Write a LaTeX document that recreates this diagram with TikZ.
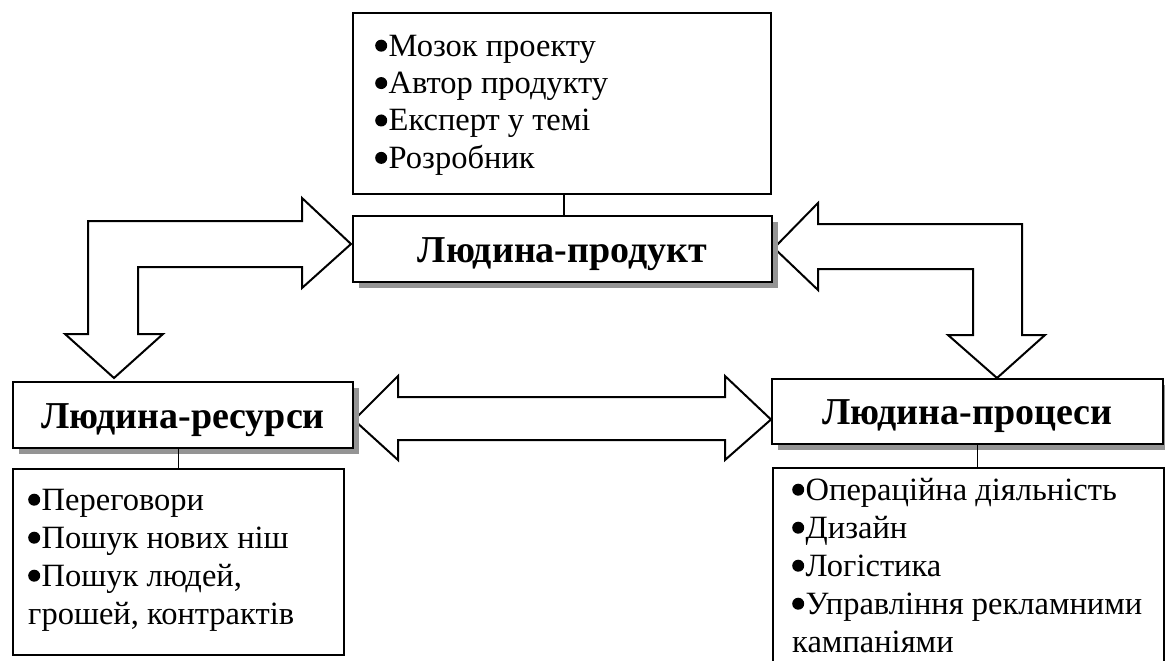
\documentclass[tikz,border=0pt]{standalone}
\usepackage{fontspec}
\setmainfont{Liberation Serif}
\usetikzlibrary{shadows,calc,backgrounds}
\newcommand{\bl}{\tikz[x=1pt,y=1pt,baseline=0pt]\fill[black] (6,10.5) circle[radius=6pt];\hspace{1.5pt}}
\begin{document}
\begin{tikzpicture}[x=1pt,y=-1pt,
  titlebox/.style={draw, line width=2pt, fill=white, inner sep=0pt,
    minimum height=66pt, text height=31pt, text depth=5pt,
    font=\fontsize{38}{40}\selectfont\bfseries,
    drop shadow={shadow xshift=6pt, shadow yshift=-6pt, fill=black!42, opacity=1}},
  listbox/.style={draw, line width=2pt, fill=white, inner sep=0pt, anchor=north west},
  listtext/.style={anchor=north west, inner sep=0pt, align=left, font=\fontsize{32.5}{38}\selectfont},
  conn/.style={line width=1.5pt},
  blockarrow/.style={draw, line width=2pt, fill=white, line join=miter}
]
\useasboundingbox (0,0) rectangle (1165,661);

% boxes
\node[listbox, minimum width=418pt, minimum height=181pt] (det1) at (352,12) {};
\node[titlebox, anchor=north west, minimum width=419pt] (prod) at (352,215) {Людина-продукт};
\node[titlebox, anchor=north west, minimum width=340pt] (res) at (12,381) {Людина-ресурси};
\node[listbox, minimum width=331pt, minimum height=186pt] (det2) at (12,468) {};
\node[titlebox, anchor=north west, minimum width=391pt, minimum height=65pt] (proc) at (771,378) {Людина-процеси};
\node[listbox, minimum width=391pt, minimum height=240pt] (det3) at (772,467) {};

% texts
\node[listtext, font=\fontsize{32.5}{37.4}\selectfont] (t1) at (375,29.8) {\strut\bl Мозок проекту\\\bl Автор продукту\\\bl Експерт у темі\\\bl Розробник};
\node[listtext] (t2) at (28,483.4) {\strut\bl Переговори\\\bl Пошук нових ніш\\\bl Пошук людей,\\грошей, контрактів};
\node[listtext] (t3) at (792,473.4) {\strut\bl Операційна діяльність\\\bl Дизайн\\\bl Логістика\\\bl Управління рекламними\\кампаніями};

% connectors
\draw[conn] (det1.south -| 564,0) -- (prod.north -| 564,0);
\draw[conn] (det2.north) -- (det2.north |- res.south);
\coordinate (c3) at ($(det3.north)+(9,0)$);
\draw[conn] (c3) -- (c3 |- proc.south);

% arrow end points
\coordinate (pL) at ($(prod.west)+(-1,-5)$);
\coordinate (rT) at ($(res.north west)+(102,-3)$);
\coordinate (pR) at ($(prod.east)+(1,-1)$);
\coordinate (qT) at ($(proc.north west)+(226,0)$);
\coordinate (rE) at ($(res.east)+(0,5)$);
\coordinate (qW) at ($(proc.west)+(0,8)$);

\begin{pgfonlayer}{background}
\fill[white] (0,0) rectangle (1165,661);
\path[blockarrow] (pL) -- (302,198) -- (302,221) -- (88,221) -- (88,334) -- (65,334) -- (rT)
  -- (163,334) -- (138,334) -- (138,267) -- (302,267) -- (302,288) -- cycle;
\path[blockarrow] (pR) -- (818,203) -- (818,224) -- (1022,224) -- (1022,335) -- (1045,335) -- (qT)
  -- (948,335) -- (973,335) -- (973,269) -- (818,269) -- (818,290) -- cycle;
\path[blockarrow] (rE) -- (398,376) -- (398,397) -- (725,397) -- (725,376) -- (qW)
  -- (725,460) -- (725,440) -- (398,440) -- (398,460) -- cycle;
\end{pgfonlayer}
\end{tikzpicture}
\end{document}
